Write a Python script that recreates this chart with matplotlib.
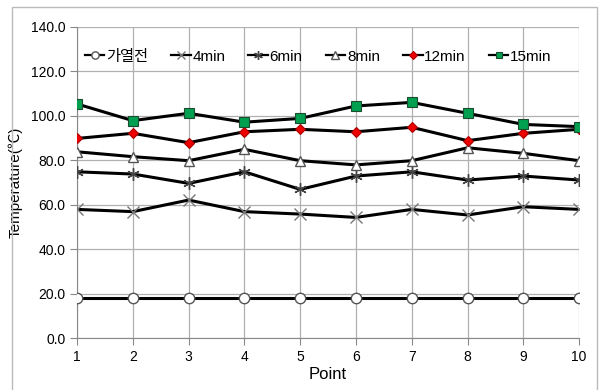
import matplotlib
matplotlib.use('Agg')
import matplotlib.pyplot as plt
from matplotlib.patches import Rectangle

plt.rcParams['font.family'] = ['Liberation Sans', 'Noto Sans CJK KR', 'DejaVu Sans']

points = [1, 2, 3, 4, 5, 6, 7, 8, 9, 10]
before = [18, 18, 18, 18, 18, 18, 18, 18, 18, 18]
min4 = [57.8, 56.8, 62, 56.8, 55.7, 54.2, 57.8, 55.3, 59, 57.8]
min6 = [74.7, 73.7, 69.5, 74.7, 66.8, 72.8, 74.7, 71, 72.8, 71]
min8 = [83.7, 81.5, 79.7, 84.8, 79.7, 77.8, 79.7, 85.5, 83, 79.7]
min12 = [89.7, 92, 87.8, 92.7, 93.8, 92.7, 94.7, 88.7, 92, 93.8]
min15 = [105.2, 97.7, 101, 97, 98.7, 104.3, 105.9, 101, 96, 95]
labels = ['가열전', '4min', '6min', '8min', '12min', '15min']
yticks = [0, 20, 40, 60, 80, 100, 120, 140]

fig = plt.figure(figsize=(6.02, 3.9), dpi=100)
fig.patches.append(Rectangle((0.02, -0.01), 0.972, 0.992, transform=fig.transFigure,
                             fill=False, edgecolor='#bbbbbb', linewidth=1))
ax = fig.add_axes([0.128, 0.1333, 0.834, 0.7987])

lw = 2.2
ax.plot(points, before, color='black', lw=lw, marker='o', ms=7.5,
        mfc='white', mec='#555555', mew=1, label=labels[0], zorder=3)
ax.plot(points, min4, color='black', lw=lw, marker='x', ms=9,
        mec='#777777', mew=1, label=labels[1], zorder=3)
ax.plot(points, min6, color='black', lw=lw, marker=(6, 2, 0), ms=9,
        mec='#444444', mew=1, label=labels[2], zorder=3)
ax.plot(points, min8, color='black', lw=lw, marker='^', ms=7.5,
        mfc='white', mec='#555555', mew=1, label=labels[3], zorder=3)
ax.plot(points, min12, color='black', lw=lw, marker='D', ms=5.5,
        mfc='#ee0000', mec='#aa0000', mew=0.8, label=labels[4], zorder=3)
ax.plot(points, min15, color='black', lw=lw, marker='s', ms=7,
        mfc='#00a050', mec='#1a4d2e', mew=0.8, label=labels[5], zorder=3)

ax.set_xlim(1, 10)
ax.set_ylim(0, 140)
ax.set_xticks(points)
ax.set_yticks(yticks)
ax.set_yticklabels(['%.1f' % v for v in yticks])
ax.grid(True, color='#b0b0b0', linewidth=0.9)
for s in ['top', 'right']:
    ax.spines[s].set_visible(False)
ax.spines['left'].set_color('#888888')
ax.spines['bottom'].set_color('#888888')
ax.tick_params(direction='out', length=5, color='#888888', labelsize=10)
ax.set_xlabel('Point', fontsize=12, labelpad=2)
ax.set_ylabel('Temperature(℃)', fontsize=11)
ax.yaxis.set_label_coords(-0.108, 0.5)

leg = ax.legend(loc='upper center', bbox_to_anchor=(0.48, 0.97), ncol=6, frameon=False,
                fontsize=11, handlelength=1.3, handletextpad=0.1, columnspacing=1.5,
                markerscale=0.7)
for ln in leg.get_lines():
    ln.set_linewidth(1.6)

fig.savefig('out.png', dpi=100)
